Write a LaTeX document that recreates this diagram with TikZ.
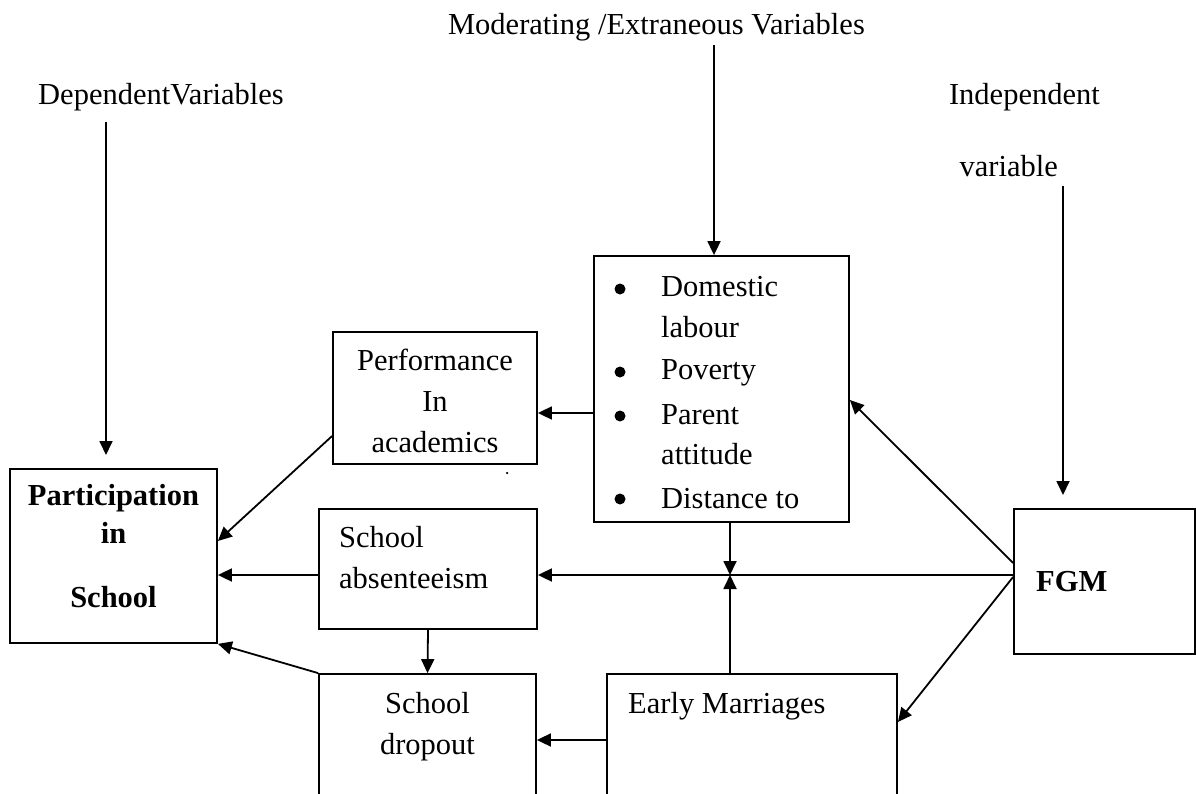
\documentclass[tikz,border=0pt]{standalone}
\usepackage{fontspec}
\setmainfont{Liberation Serif}
\usetikzlibrary{arrows.meta}
\begin{document}
\begin{tikzpicture}[x=1pt,y=-1pt,
  box/.style={draw, line width=1.8pt, inner sep=0pt},
  arr/.style={line width=1.8pt, -{Triangle[length=14pt,width=13pt]}},
  txt/.style={inner sep=0pt, font=\fontsize{30.5}{36}\selectfont},
  btxt/.style={txt, font=\fontsize{30.5}{36}\selectfont\bfseries},
  bul/.style={circle, fill, inner sep=0pt, minimum size=11pt}]
\useasboundingbox (0,0) rectangle (1196,794);
\clip (0,0) rectangle (1196,794);
% boxes
\node[box, minimum width=207pt, minimum height=174pt] (part) at (113.5,556) {};
\node[box, minimum width=204pt, minimum height=132pt] (perf) at (435,398) {};
\node[box, minimum width=255pt, minimum height=266pt] (dom) at (721.5,389) {};
\node[box, minimum width=218pt, minimum height=120pt] (abs) at (428,569) {};
\node[box, minimum width=217pt, minimum height=146pt] (drop) at (427.5,747) {};
\node[box, minimum width=290pt, minimum height=146pt] (early) at (752,747) {};
\node[box, minimum width=181pt, minimum height=145pt] (fgm) at (1104.5,581.5) {};
% headings
\node[txt, anchor=base east] (mod) at (865,35) {Moderating /Extraneous Variables};
\node[txt, anchor=base west] (dep) at (38,105) {DependentVariables};
\node[txt, anchor=base east] (ind1) at (1100,105) {Independent};
\node[txt, anchor=base east] (ind2) at (1058,177) {variable};
% box texts
\node[btxt, anchor=base] (pt1) at (113.5,505) {Participation};
\node[btxt, anchor=base] (pt2) at (113.5,543) {in};
\node[btxt, anchor=base] (pt3) at (113.5,607) {School};
\node[txt, anchor=base] (pf1) at (435,370) {Performance};
\node[txt, anchor=base] (pf2) at (435,411) {In};
\node[txt, anchor=base] (pf3) at (435,452) {academics};
\node[txt, anchor=base west] (ab1) at (339,547) {School};
\node[txt, anchor=base west] (ab2) at (339,588) {absenteeism};
\node[txt, anchor=base] (dr1) at (427.5,713) {School};
\node[txt, anchor=base] (dr2) at (427.5,754) {dropout};
\node[txt, anchor=base west] (em) at (628,713) {Early Marriages};
\node[btxt, anchor=base west] (fg) at (1036,591) {FGM};
\node[bul] (b1) at (620,289) {};
\node[bul] (b2) at (620,372) {};
\node[bul] (b3) at (620,416) {};
\node[bul] (b4) at (620,499) {};
\node[txt, anchor=base west] (d1) at (661,296) {Domestic};
\node[txt, anchor=base west] (d2) at (661,337) {labour};
\node[txt, anchor=base west] (d3) at (661,379) {Poverty};
\node[txt, anchor=base west] (d4) at (661,424) {Parent};
\node[txt, anchor=base west] (d5) at (661,464) {attitude};
\node[txt, anchor=base west] (d6) at (661,508) {Distance to};
\node[circle, fill, inner sep=0pt, minimum size=2.5pt] (dot) at (507,473) {};
% connectors
\coordinate (m0) at (714,45);
\draw[arr] (m0) -- (m0 |- dom.north);
\coordinate (dp0) at (106,122);
\coordinate (dp1) at (106,455);
\draw[arr] (dp0) -- (dp1);
\coordinate (ip0) at (1063,186);
\coordinate (ip1) at (1063,495);
\draw[arr] (ip0) -- (ip1);
\draw[arr] (dom.west |- 0,413) -- (perf.east |- 0,413);
\draw[arr] (perf.west |- 0,436) -- (part.east |- 0,541);
\draw[arr] (abs.west |- 0,575) -- (part.east |- 0,575);
\draw[arr] (abs.south) -- (drop.north);
\draw[arr] (drop.north west) -- (part.south east);
\draw[arr] (early.west |- 0,740) -- (drop.east |- 0,740);
\coordinate (mid) at (730,575);
\draw[arr] (dom.south -| mid) -- (mid);
\draw[arr] (early.north -| mid) -- (mid);
\draw[arr] (fgm.west |- 0,575) -- (abs.east |- 0,575);
\draw[arr] (fgm.west |- 0,563) -- (dom.east |- 0,400);
\draw[arr] (fgm.west |- 0,577) -- (early.east |- 0,722);
\end{tikzpicture}
\end{document}
